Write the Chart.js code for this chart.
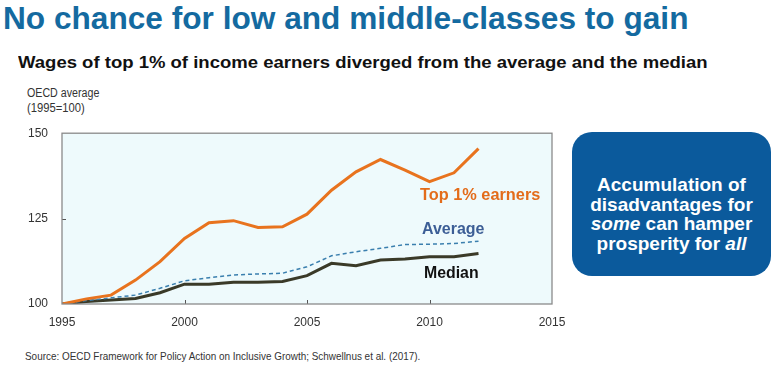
<!DOCTYPE html>
<html>
<head>
<meta charset="utf-8">
<script src="https://cdn.jsdelivr.net/npm/chart.js@4"></script>
<style>
  body { margin: 0; width: 773px; height: 371px; background: #fff; position: relative; overflow: hidden;
         font-family: "Liberation Sans", Arial, sans-serif; }
  .abs { position: absolute; white-space: nowrap; }
  .fit { transform-origin: 0 0; }
  #title { left: 3px; top: 0px; font-size: 32px; font-weight: bold; color: #146aa0; }
  #subtitle { left: 18px; top: 53px; font-size: 16.5px; font-weight: bold; color: #111; }
  #unit { left: 27px; top: 86px; font-size: 12px; line-height: 15px; color: #333; }
  #source { left: 25px; top: 350px; font-size: 11px; color: #333; }
  #wrap { left: 0; top: 120px; width: 570px; height: 220px; }
  .lab { font-weight: bold; font-size: 17px; }
  #box { left: 572px; top: 132px; width: 199px; height: 144px; background: #0b5a9c; border-radius: 20px;
         color: #fff; font-weight: bold; font-size: 19px; line-height: 19.5px; text-align: center;
         box-sizing: border-box; padding-top: 43px; white-space: nowrap; }
</style>
</head>
<body>
<div id="title" class="abs fit" data-w="685">No chance for low and middle-classes to gain</div>
<div id="subtitle" class="abs fit" data-w="690">Wages of top 1% of income earners diverged from the average and the median</div>
<div id="unit" class="abs"><div class="fit" data-w="72">OECD average</div><div class="fit" data-w="58">(1995=100)</div></div>
<div id="wrap" class="abs"><canvas id="chart"></canvas></div>
<div class="abs lab fit" data-w="120" style="left:420px; top:185px; color:#e36c1a;">Top 1% earners</div>
<div class="abs lab fit" data-w="62" style="left:422px; top:219px; color:#3c5e96;">Average</div>
<div class="abs lab fit" data-w="55" style="left:424px; top:263px; color:#111;">Median</div>
<div id="box" class="abs">Accumulation of<br>disadvantages for<br><i>some</i> can hamper<br>prosperity for <i>all</i></div>
<div id="source" class="abs fit" data-w="395">Source: OECD Framework for Policy Action on Inclusive Growth; Schwellnus et al. (2017).</div>
<script>
// squeeze the condensed-looking texts to the widths in the picture
document.querySelectorAll('.fit').forEach(el => {
  el.style.display = 'inline-block';
  el.style.width = 'max-content';
  el.style.transform = 'scaleX(' + (Number(el.dataset.w) / el.offsetWidth) + ')';
});
document.querySelectorAll('#unit .fit').forEach(el => { el.style.display = 'block'; });

// series (1995 = 100)
const years = [1995, 1996, 1997, 1998, 1999, 2000, 2001, 2002, 2003, 2004, 2005, 2006, 2007, 2008, 2009, 2010, 2011, 2012];
const top1 = [100, 101.5, 102.6, 107, 112.4, 119.2, 123.8, 124.4, 122.4, 122.6, 126.3, 133.3, 138.7, 142.3, 139.2, 135.8, 138.4, 145.5];
const average = [100, 101, 101.8, 102.6, 104.6, 106.8, 107.7, 108.5, 108.8, 109, 110.9, 114.1, 115.3, 116.3, 117.4, 117.5, 117.7, 118.4];
const median = [100, 100.7, 101.2, 101.6, 103.3, 105.8, 105.8, 106.4, 106.4, 106.6, 108.3, 111.9, 111.2, 112.9, 113.2, 113.8, 113.8, 114.8];
const xTicks = [1995, 2000, 2005, 2010, 2015];
const yTicks = [100, 125, 150];

const pts = (vals) => years.map((y, i) => ({ x: y, y: vals[i] }));

// plot background, frame and the small inward tick marks
const frame = {
  id: 'frame',
  beforeDatasetsDraw(chart) {
    const { ctx, chartArea: a, scales } = chart;
    ctx.save();
    ctx.fillStyle = '#eefafc';
    ctx.fillRect(a.left, a.top, a.right - a.left, a.bottom - a.top);
    ctx.strokeStyle = '#555';
    ctx.lineWidth = 1;
    xTicks.slice(1, -1).forEach(v => {
      const px = Math.round(scales.x.getPixelForValue(v)) + 0.5;
      ctx.beginPath(); ctx.moveTo(px, a.bottom); ctx.lineTo(px, a.bottom - 4); ctx.stroke();
    });
    yTicks.slice(1, -1).forEach(v => {
      const py = Math.round(scales.y.getPixelForValue(v)) + 0.5;
      ctx.beginPath(); ctx.moveTo(a.left, py); ctx.lineTo(a.left + 4, py); ctx.stroke();
    });
    ctx.restore();
  },
  afterDatasetsDraw(chart) {
    const { ctx, chartArea: a } = chart;
    ctx.save();
    ctx.strokeStyle = '#8a8a8a';
    ctx.lineWidth = 1.3;
    ctx.strokeRect(a.left, a.top, a.right - a.left, a.bottom - a.top);
    ctx.restore();
  }
};

const tickFont = { family: '"Liberation Sans", sans-serif', size: 12 };

new Chart(document.getElementById('chart'), {
  type: 'line',
  data: {
    datasets: [
      { label: 'Top 1% earners', data: pts(top1), borderColor: '#e8731e', borderWidth: 3, pointRadius: 0, tension: 0 },
      { label: 'Average', data: pts(average), borderColor: '#3a7fae', borderWidth: 1.5, borderDash: [4, 3], pointRadius: 0, tension: 0 },
      { label: 'Median', data: pts(median), borderColor: '#3a3a28', borderWidth: 3, pointRadius: 0, tension: 0 }
    ]
  },
  options: {
    responsive: true,
    maintainAspectRatio: false,
    animation: false,
    layout: { padding: { top: 13, right: 18, left: 0, bottom: 0 } },
    plugins: { legend: { display: false }, tooltip: { enabled: false } },
    scales: {
      x: {
        type: 'linear', min: 1995, max: 2015,
        afterBuildTicks: s => { s.ticks = xTicks.map(v => ({ value: v })); },
        afterFit: s => { s.height = 36; },
        grid: { display: false },
        border: { display: false },
        ticks: { font: tickFont, color: '#333', padding: 3, callback: v => String(v) }
      },
      y: {
        min: 100, max: 150,
        afterBuildTicks: s => { s.ticks = yTicks.map(v => ({ value: v })); },
        afterFit: s => { s.width = 62; },
        grid: { display: false },
        border: { display: false },
        ticks: { font: tickFont, color: '#333', padding: 6 }
      }
    }
  },
  plugins: [frame]
});
</script>
</body>
</html>
